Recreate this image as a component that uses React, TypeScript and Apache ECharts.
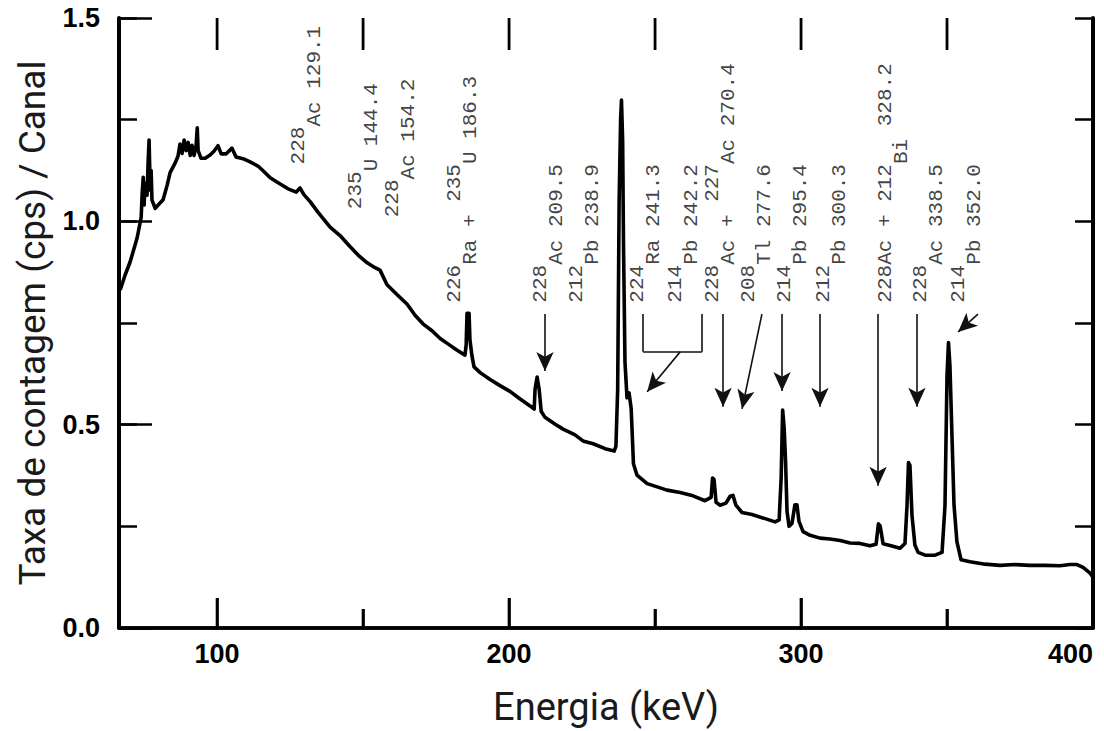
import React, { useEffect, useRef } from "react";
import * as echarts from "echarts";

// Spectrum: energy (keV) and count rate (cps / canal)
const energyKeV = [
  66.8, 68.5, 70.2, 72.6, 74.0, 74.3, 74.7, 75.0, 75.3, 76.0, 76.4, 76.7, 77.1, 77.4, 77.7, 78.8,
  79.8, 81.5, 82.9, 83.9, 85.6, 86.6, 87.3, 88.0, 88.7, 89.4, 90.1, 90.8, 91.4, 92.1, 92.8, 93.2,
  93.5, 94.5, 95.9, 97.6, 99.0, 100.3, 101.4, 103.1, 105.1, 106.5, 108.9, 111.3, 114.0, 116.1,
  118.2, 120.9, 124.3, 127.1, 128.4, 129.8, 131.8, 134.6, 138.7, 142.1, 145.5, 148.3, 151.4,
  154.1, 155.8, 158.2, 161.6, 165.1, 167.8, 170.5, 173.6, 176.4, 179.8, 182.2, 184.9, 185.3,
  185.6, 186.3, 186.6, 187.3, 188.0, 190.1, 193.5, 196.9, 200.3, 203.8, 207.2, 208.6, 208.9,
  209.6, 210.3, 211.0, 212.3, 215.8, 218.5, 222.6, 225.3, 228.8, 232.9, 236.0, 236.6, 237.2,
  237.7, 238.2, 238.5, 238.9, 239.2, 239.7, 240.4, 241.1, 241.8, 242.1, 242.6, 243.8, 247.3,
  250.7, 254.1, 258.6, 263.0, 267.1, 269.2, 269.7, 270.2, 270.9, 272.3, 274.3, 275.7, 276.7,
  277.7, 279.8, 283.2, 287.7, 291.1, 292.5, 293.2, 293.7, 294.2, 294.7, 295.2, 295.9, 296.9,
  297.9, 298.6, 299.3, 300.7, 303.1, 306.5, 309.9, 313.4, 316.8, 320.2, 323.6, 325.7, 326.5,
  327.1, 328.1, 330.5, 333.9, 335.6, 336.3, 336.8, 337.3, 338.0, 339.0, 340.1, 342.5, 345.9,
  348.3, 349.3, 350.0, 350.5, 351.0, 351.7, 352.4, 353.4, 354.8, 357.9, 363.0, 368.2, 373.3,
  378.4, 383.6, 388.7, 392.1, 394.5, 396.6, 399.0, 400.0,
];
const countRate = [
  0.831, 0.868, 0.9, 0.959, 1.01, 1.064, 1.108, 1.04, 1.094, 1.064, 1.15, 1.2, 1.077, 1.125, 1.052, 1.032,
  1.04, 1.053, 1.089, 1.12, 1.143, 1.16, 1.19, 1.167, 1.2, 1.174, 1.194, 1.162, 1.187, 1.162, 1.186, 1.23,
  1.174, 1.155, 1.155, 1.163, 1.173, 1.186, 1.166, 1.166, 1.18, 1.158, 1.154, 1.146, 1.136, 1.122,
  1.107, 1.095, 1.08, 1.072, 1.082, 1.065, 1.049, 1.022, 0.986, 0.965, 0.938, 0.917, 0.898,
  0.886, 0.88, 0.844, 0.82, 0.796, 0.769, 0.748, 0.731, 0.712, 0.695, 0.683, 0.671, 0.696,
  0.774, 0.774, 0.708, 0.669, 0.642, 0.628, 0.611, 0.596, 0.582, 0.563, 0.546, 0.538, 0.587,
  0.617, 0.587, 0.533, 0.518, 0.501, 0.489, 0.475, 0.46, 0.453, 0.441, 0.435, 0.447, 0.587,
  1.05, 1.25, 1.298, 1.2, 0.94, 0.654, 0.566, 0.578, 0.541, 0.492, 0.404, 0.376, 0.355,
  0.347, 0.339, 0.333, 0.325, 0.313, 0.321, 0.369, 0.365, 0.309, 0.302, 0.307, 0.324, 0.326,
  0.302, 0.284, 0.279, 0.269, 0.261, 0.266, 0.37, 0.536, 0.494, 0.41, 0.287, 0.25, 0.257,
  0.303, 0.303, 0.262, 0.237, 0.228, 0.221, 0.219, 0.215, 0.209, 0.208, 0.202, 0.206, 0.256,
  0.251, 0.207, 0.203, 0.196, 0.208, 0.301, 0.407, 0.4, 0.277, 0.204, 0.186, 0.179, 0.179,
  0.186, 0.3, 0.62, 0.702, 0.645, 0.473, 0.302, 0.212, 0.168, 0.163, 0.157, 0.154, 0.156,
  0.154, 0.154, 0.153, 0.156, 0.156, 0.149, 0.135, 0.125,
];

const xMajorTicks = [100, 200, 300];
const xMinorTicks = [150, 250, 350];
const xTopTicks = [100, 150, 200, 250, 300, 350];
const xTickLabels = [100, 200, 300, 400];

// Peak annotations: anchor (energy, level) of the text foot, and the text pieces
// each piece: [text, raised?]
const noteEnergy = [130.5, 150.0, 162.7, 184.2, 213.4, 226.0, 246.9, 259.8, 272.5, 284.8, 297.1, 310.5, 331.7, 343.7, 356.7];
const noteLevel = [1.14, 1.03, 1.01, 0.8, 0.8, 0.8, 0.8, 0.8, 0.8, 0.8, 0.8, 0.8, 0.8, 0.8, 0.8];
const noteParts: [string, boolean][][] = [
  [["228", true], ["Ac 129.1", false]],
  [["235", true], ["U 144.4", false]],
  [["228", true], ["Ac 154.2", false]],
  [["226", true], ["Ra + ", false], ["235", true], ["U 186.3", false]],
  [["228", true], ["Ac 209.5", false]],
  [["212", true], ["Pb 238.9", false]],
  [["224", true], ["Ra 241.3", false]],
  [["214", true], ["Pb 242.2", false]],
  [["228", true], ["Ac + ", false], ["227", true], ["Ac 270.4", false]],
  [["208", true], ["Tl 277.6", false]],
  [["214", true], ["Pb 295.4", false]],
  [["212", true], ["Pb 300.3", false]],
  [["228Ac + 212", true], ["Bi", false], [" 328.2", true]],
  [["228", true], ["Ac 338.5", false]],
  [["214", true], ["Pb 352.0", false]],
];

// Arrows (start -> head) in data coordinates
const arrowFrom: [number, number][] = [
  [212.3, 0.772], [258.6, 0.679], [273.3, 0.772], [286.6, 0.772], [293.5, 0.772],
  [306.5, 0.772], [326.4, 0.772], [339.7, 0.772], [360.6, 0.772],
];
const arrowTo: [number, number][] = [
  [212.3, 0.632], [247.3, 0.581], [273.3, 0.544], [279.8, 0.539], [293.5, 0.583],
  [306.5, 0.544], [326.4, 0.35], [339.7, 0.544], [353.8, 0.728],
];
// Bracket joining 224Ra and 214Pb
const bracketFrom: [number, number][] = [[245.9, 0.772], [266.1, 0.772], [245.9, 0.679]];
const bracketTo: [number, number][] = [[245.9, 0.679], [266.1, 0.679], [266.1, 0.679]];

const X_MIN = 66.4;
const X_MAX = 400;
const Y_MIN = 0;
const Y_MAX = 1.5;

export default function App() {
  const ref = useRef<HTMLDivElement>(null);
  useEffect(() => {
    if (!ref.current) return;
    const chart = echarts.init(ref.current, null, { renderer: "svg" });
    const ink = "#111";
    const labelFont = "'Liberation Sans', Arial, sans-serif";
    const monoFont = "'Liberation Mono', 'DejaVu Sans Mono', monospace";

    const baseX = {
      type: "value" as const,
      min: X_MIN,
      max: X_MAX,
      splitLine: { show: false },
    };
    const baseY = {
      type: "value" as const,
      min: Y_MIN,
      max: Y_MAX,
      splitLine: { show: false },
    };

    const noteData = noteEnergy.map((e, i) => ({
      value: [e, noteLevel[i]],
      text: noteParts[i].map(([t, up]) => `{${up ? "u" : "d"}|${t}}`).join(""),
    }));

    // energy ticks: [energy, axis edge value, signed length in px]
    const tickItems = [
      ...xMajorTicks.map((v) => [v, Y_MIN, -30]),
      ...xMinorTicks.map((v) => [v, Y_MIN, -19]),
      ...xTopTicks.map((v) => [v, Y_MAX, 32]),
    ];

    const bracketData = bracketFrom.map((f, i) => [{ coord: f }, { coord: bracketTo[i] }]);

    chart.setOption({
      animation: false,
      backgroundColor: "#ffffff",
      grid: { left: 119, top: 18, width: 974, height: 612, containLabel: false },
      xAxis: [
        {
          ...baseX,
          position: "bottom",
          name: "Energia (keV)",
          nameLocation: "middle",
          nameGap: 60,
          nameTextStyle: { fontFamily: "Roboto, sans-serif", fontSize: 38, color: "#1a1a1a" },
          axisLine: { show: true, lineStyle: { color: "#000", width: 3.5 } },
          axisTick: { show: true, inside: true, length: 30, customValues: xMajorTicks, lineStyle: { color: "#000", width: 2.5 } },
          axisLabel: {
            show: true,
            customValues: xTickLabels,
            margin: 12,
            alignMaxLabel: "right",
            fontFamily: labelFont,
            fontWeight: "bold",
            fontSize: 27,
            color: "#000",
          },
        },
        {
          ...baseX,
          position: "bottom",
          axisLine: { show: false },
          axisTick: { show: true, inside: true, length: 19, customValues: xMinorTicks, lineStyle: { color: "#000", width: 2.5 } },
          axisLabel: { show: false },
        },
        {
          ...baseX,
          position: "top",
          axisLine: { show: true, lineStyle: { color: "#000", width: 3.5 } },
          axisTick: { show: false },
          axisLabel: { show: false },
        },
      ],
      yAxis: [
        {
          ...baseY,
          position: "left",
          interval: 0.5,
          name: "Taxa de contagem (cps) / Canal",
          nameLocation: "middle",
          nameGap: 68,
          nameTextStyle: { fontFamily: "Roboto, sans-serif", fontSize: 37, color: "#1a1a1a" },
          axisLine: { show: true, lineStyle: { color: "#000", width: 4 } },
          axisTick: { show: true, inside: true, length: 33, lineStyle: { color: "#000", width: 2.5 } },
          axisLabel: {
            show: true,
            margin: 19,
            formatter: (v: number) => v.toFixed(1),
            fontFamily: labelFont,
            fontWeight: "bold",
            fontSize: 27,
            color: "#000",
          },
        },
        {
          ...baseY,
          position: "left",
          interval: 0.25,
          axisLine: { show: false },
          axisTick: { show: true, inside: true, length: 18, lineStyle: { color: "#000", width: 2.5 } },
          axisLabel: { show: false },
        },
        {
          ...baseY,
          position: "right",
          interval: 0.25,
          axisLine: { show: true, lineStyle: { color: "#000", width: 4 } },
          axisTick: { show: true, inside: true, length: 18, lineStyle: { color: "#000", width: 2.5 } },
          axisLabel: { show: false },
        },
      ],
      series: [
        {
          type: "line",
          name: "spectrum",
          data: energyKeV.map((e, i) => [e, countRate[i]]),
          showSymbol: false,
          symbol: "none",
          silent: true,
          lineStyle: { color: "#000", width: 3.6, join: "round" },
          z: 3,
          markLine: {
            silent: true,
            symbol: ["none", "arrow"],
            symbolSize: [13, 19],
            label: { show: false },
            lineStyle: { color: ink, width: 1.6, type: "solid" },
            emphasis: { disabled: true },
            data: arrowFrom.map((f, i) => [{ coord: f }, { coord: arrowTo[i] }]),
          },
        },
        {
          type: "custom",
          name: "energy ticks",
          data: tickItems,
          silent: true,
          clip: false,
          z: 6,
          renderItem: (_params: any, api: any) => {
            const p = api.coord([api.value(0), api.value(1)]);
            const len = api.value(2);
            return {
              type: "line",
              shape: { x1: p[0], y1: p[1], x2: p[0], y2: p[1] + len },
              style: { stroke: "#000", lineWidth: 2.8 },
            };
          },
        },
        {
          type: "scatter",
          name: "notes",
          data: noteData,
          symbolSize: 0,
          silent: true,
          z: 4,
          label: {
            show: true,
            position: [0, 0],
            rotate: 90,
            align: "left",
            verticalAlign: "middle",
            lineHeight: 37,
            formatter: (p: any) => p.data.text,
            rich: {
              u: { fontFamily: monoFont, fontSize: 21, color: "#111", verticalAlign: "top", lineHeight: 37 },
              d: { fontFamily: monoFont, fontSize: 21, color: "#111", verticalAlign: "bottom", lineHeight: 37 },
            },
          },
          markLine: {
            silent: true,
            symbol: ["none", "none"],
            label: { show: false },
            lineStyle: { color: ink, width: 1.6, type: "solid" },
            emphasis: { disabled: true },
            data: bracketData,
          },
        },
      ],
    });

    return () => chart.dispose();
  }, []);

  return (
    <div
      ref={ref}
      style={{ position: "fixed", left: 0, top: 0, width: 1104, height: 731, background: "#fff" }}
    />
  );
}
